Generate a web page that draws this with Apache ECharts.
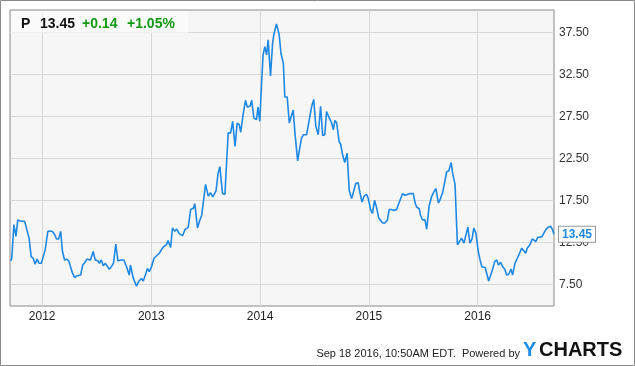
<!DOCTYPE html>
<html><head><meta charset="utf-8">
<script src="https://cdn.jsdelivr.net/npm/echarts@6/dist/echarts.min.js"></script>
<style>html,body{margin:0;padding:0;background:#fff}#c{width:635px;height:366px}</style>
</head><body><div id="c"></div>
<script>
const dates = [
'2011-09-17','2011-09-21','2011-09-28','2011-10-05','2011-10-11','2011-10-22','2011-11-03','2011-11-12','2011-11-18','2011-11-25','2011-12-02','2011-12-08','2011-12-15','2011-12-22','2011-12-29',
'2012-01-04','2012-01-11','2012-01-20','2012-01-29','2012-02-05','2012-02-12','2012-02-18','2012-02-25','2012-03-03','2012-03-09','2012-03-16','2012-03-23','2012-03-30','2012-04-05','2012-04-12','2012-04-19','2012-04-26','2012-05-02','2012-05-09','2012-05-16','2012-05-23','2012-05-30','2012-06-05','2012-06-11','2012-06-20','2012-06-27','2012-07-02','2012-07-06','2012-07-11','2012-07-17','2012-07-24','2012-07-31','2012-08-06','2012-08-13','2012-08-20','2012-08-27','2012-09-04','2012-09-11','2012-09-23','2012-10-01','2012-10-10','2012-10-19','2012-10-23','2012-11-01','2012-11-07','2012-11-12','2012-11-21','2012-11-29','2012-12-05','2012-12-14','2012-12-19','2012-12-25',
'2013-01-02','2013-01-10','2013-01-19','2013-01-28','2013-02-05','2013-02-12','2013-02-21','2013-02-26','2013-03-07','2013-03-13','2013-03-21','2013-03-27','2013-04-05','2013-04-16','2013-04-24','2013-05-05','2013-05-13','2013-05-22','2013-05-27','2013-06-05','2013-06-13','2013-06-19','2013-07-02','2013-07-11','2013-07-19','2013-07-26','2013-08-06','2013-08-13','2013-08-19','2013-08-28','2013-09-05','2013-09-16','2013-09-24','2013-10-01','2013-10-09','2013-10-16','2013-10-23','2013-10-28','2013-11-06','2013-11-13','2013-11-19','2013-11-28','2013-12-04','2013-12-11','2013-12-20','2013-12-25','2013-12-31',
'2014-01-06','2014-01-11','2014-01-17','2014-01-23','2014-01-28','2014-02-05','2014-02-12','2014-02-16','2014-02-25','2014-03-06','2014-03-12','2014-03-20','2014-03-25','2014-04-02','2014-04-09','2014-04-14','2014-04-22','2014-04-28','2014-05-07','2014-05-14','2014-05-20','2014-05-26','2014-06-01','2014-06-06','2014-06-15','2014-06-23','2014-06-30','2014-07-07','2014-07-15','2014-07-23','2014-07-30','2014-08-06','2014-08-12','2014-08-21','2014-08-29','2014-09-04','2014-09-09','2014-09-15','2014-09-23','2014-09-28','2014-10-05','2014-10-12','2014-10-20','2014-10-27','2014-11-04','2014-11-09','2014-11-18','2014-11-26','2014-12-02','2014-12-09','2014-12-16','2014-12-24','2014-12-30',
'2015-01-07','2015-01-13','2015-01-20','2015-01-27','2015-02-03','2015-02-09','2015-02-16','2015-02-24','2015-03-04','2015-03-10','2015-03-18','2015-03-26','2015-04-04','2015-04-11','2015-04-17','2015-04-24','2015-05-02','2015-05-10','2015-05-19','2015-05-30','2015-06-05','2015-06-10','2015-06-19','2015-06-23','2015-06-30','2015-07-08','2015-07-14','2015-07-22','2015-07-30','2015-08-07','2015-08-14','2015-08-22','2015-08-27','2015-09-06','2015-09-12','2015-09-19','2015-09-26','2015-10-04','2015-10-09','2015-10-17','2015-10-25','2015-10-31','2015-11-08','2015-11-16','2015-11-22','2015-11-29','2015-12-06','2015-12-13','2015-12-19','2015-12-26',
'2016-01-03','2016-01-09','2016-01-15','2016-01-20','2016-01-26','2016-01-31','2016-02-07','2016-02-13','2016-02-20','2016-02-27','2016-03-05','2016-03-11','2016-03-18','2016-03-25','2016-04-01','2016-04-07','2016-04-14','2016-04-22','2016-04-27','2016-05-05','2016-05-13','2016-05-19','2016-05-28','2016-06-02','2016-06-10','2016-06-15','2016-06-24','2016-07-02','2016-07-08','2016-07-14','2016-07-21','2016-07-28','2016-08-04','2016-08-10','2016-08-17','2016-08-25','2016-09-02','2016-09-08','2016-09-13'
];
const prices = [
10.3,10.6,14.6,13.2,15.15,15.0,15.0,13.8,13.0,10.8,10.6,9.9,10.5,10.0,10.0,
10.0,11.6,13.8,13.85,13.76,13.4,12.9,12.9,13.8,11.4,10.4,10.5,10.3,9.6,8.8,8.3,8.5,8.5,8.6,9.8,10.1,10.5,10.3,10.4,11.4,10.4,10.6,10.3,10.0,10.4,9.7,10.0,10.2,9.3,9.6,10.0,12.3,10.3,10.4,10.4,9.6,8.6,9.8,8.3,8.1,7.3,7.9,8.2,7.9,8.8,9.4,9.0,
9.6,10.6,10.9,11.2,11.7,12.0,12.2,12.7,11.9,14.2,13.8,14.1,13.5,13.3,14.0,14.3,16.4,16.55,17.1,14.2,15.15,15.7,19.4,18.0,18.4,17.9,18.6,20.7,21.5,18.3,18.2,25.55,25.5,26.9,23.9,26.7,26.5,25.6,27.9,29.4,28.6,28.7,29.4,27.3,27.1,28.6,26.9,
31.4,34.8,35.8,34.8,36.6,32.3,36.2,37.2,38.5,37.2,35.0,33.8,29.8,29.8,26.7,26.9,28.25,25.5,22.2,23.7,24.9,25.3,25.4,25.3,27.1,28.65,29.5,26.3,25.3,28.7,25.2,25.3,28.05,27.3,26.7,25.9,27.0,26.7,24.5,24.2,22.9,22.0,23.1,18.7,17.7,18.3,19.5,19.6,18.4,17.3,18.0,18.2,17.7,
16.35,15.95,17.5,16.6,15.4,15.5,14.8,14.8,15.15,16.4,16.4,16.3,16.4,17.1,17.3,18.3,18.1,18.2,18.3,18.3,17.2,16.7,16.5,15.75,15.15,15.2,14.05,16.8,17.9,18.5,18.9,17.2,17.5,18.5,18.6,20.9,21.0,22.0,20.7,19.4,12.2,12.2,13.0,12.4,13.3,14.3,12.4,12.9,14.2,13.6,
11.4,10.4,9.6,9.6,9.5,9.4,7.9,7.9,9.3,10.2,10.4,9.8,10.1,9.6,9.3,8.6,8.7,9.3,8.6,10.0,10.6,10.8,11.8,12.0,11.2,11.8,12.2,12.9,13.1,12.6,13.1,13.1,13.2,13.1,14.05,14.3,14.4,14.0,13.45
];
const yTickValues = [7.5, 12.5, 17.5, 22.5, 27.5, 32.5, 37.5];
const yearTicks = ['2012', '2013', '2014', '2015', '2016'];
const xStart = '2011-09-15', xEnd = '2016-09-13';
const yMin = 4.92, yMax = 40.15;
const ticker = 'P', lastPrice = '13.45', change = '+0.14', changePct = '+1.05%';
const stamp = 'Sep 18 2016, 10:50AM EDT.  Powered by';

const FONT = "'Liberation Sans', Arial, sans-serif";
const toLocal = s => { const p = s.split('-').map(Number); return +new Date(p[0], p[1]-1, p[2]); };
const yearVals = yearTicks.map(y => +new Date(+y, 0, 1));

const chart = echarts.init(document.getElementById('c'), null, {renderer: 'canvas'});
chart.setOption({
  animation: false,
  grid: {left: 10, right: 81, top: 10, bottom: 60, show: true, backgroundColor: '#f6f6f6', borderColor: '#8a8a8a', borderWidth: 1},
  xAxis: {
    type: 'value', min: toLocal(xStart), max: toLocal(xEnd),
    axisLine: {show: false}, axisTick: {show: false, customValues: yearVals},
    splitLine: {show: true, lineStyle: {color: '#d8d8d8', width: 1}},
    axisLabel: {customValues: yearVals, formatter: v => String(new Date(v).getFullYear()), color: '#222', fontSize: 12, fontFamily: FONT, margin: 5}
  },
  yAxis: {
    type: 'value', position: 'right', min: yMin, max: yMax,
    axisLine: {show: false}, axisTick: {show: false, customValues: yTickValues},
    splitLine: {show: true, lineStyle: {color: '#d8d8d8', width: 1}},
    axisLabel: {customValues: yTickValues, formatter: v => v.toFixed(2), color: '#333', fontSize: 12, fontFamily: FONT, margin: 5}
  },
  series: [{
    type: 'line', symbol: 'none', smooth: false,
    data: dates.map((d, i) => [toLocal(d), prices[i]]),
    lineStyle: {color: '#1e88e5', width: 1.6},
    endLabel: {show: true, formatter: p => p.value[1].toFixed(2), distance: 5,
      color: '#1e88e5', fontWeight: 'bold', fontSize: 12, fontFamily: FONT,
      backgroundColor: '#fff', borderColor: '#999', borderWidth: 1, padding: [2, 3, 1, 3]}
  }],
  graphic: [
    {type: 'rect', shape: {x: 0.5, y: 0.5, width: 634, height: 365}, style: {fill: 'none', stroke: '#8a8a8a', lineWidth: 1}, z: 100},
    {type: 'rect', shape: {x: 11, y: 11, width: 177, height: 22}, style: {fill: 'rgba(255,255,255,0.6)'}, z: 10},
    {type: 'text', x: 21, y: 24, style: {text: ticker, font: 'bold 14px ' + FONT, fill: '#111', verticalAlign: 'middle'}, z: 11},
    {type: 'text', x: 40, y: 24, style: {text: lastPrice, font: 'bold 14px ' + FONT, fill: '#111', verticalAlign: 'middle'}, z: 11},
    {type: 'text', x: 82, y: 24, style: {text: change, font: 'bold 14px ' + FONT, fill: '#129912', verticalAlign: 'middle'}, z: 11},
    {type: 'text', x: 127, y: 24, style: {text: changePct, font: 'bold 14px ' + FONT, fill: '#129912', verticalAlign: 'middle'}, z: 11},
    {type: 'text', x: 520, y: 353.5, style: {text: stamp, font: '11px ' + FONT, fill: '#222', align: 'right', verticalAlign: 'middle'}, z: 11},
    {type: 'text', x: 523, y: 350, style: {text: 'Y', font: 'bold 20px ' + FONT, fill: '#1c8ce6', verticalAlign: 'middle'}, z: 11},
    {type: 'text', x: 539, y: 350, style: {text: 'CHARTS', font: 'bold 20px ' + FONT, fill: '#111', verticalAlign: 'middle'}, z: 11}
  ]
});
</script></body></html>
